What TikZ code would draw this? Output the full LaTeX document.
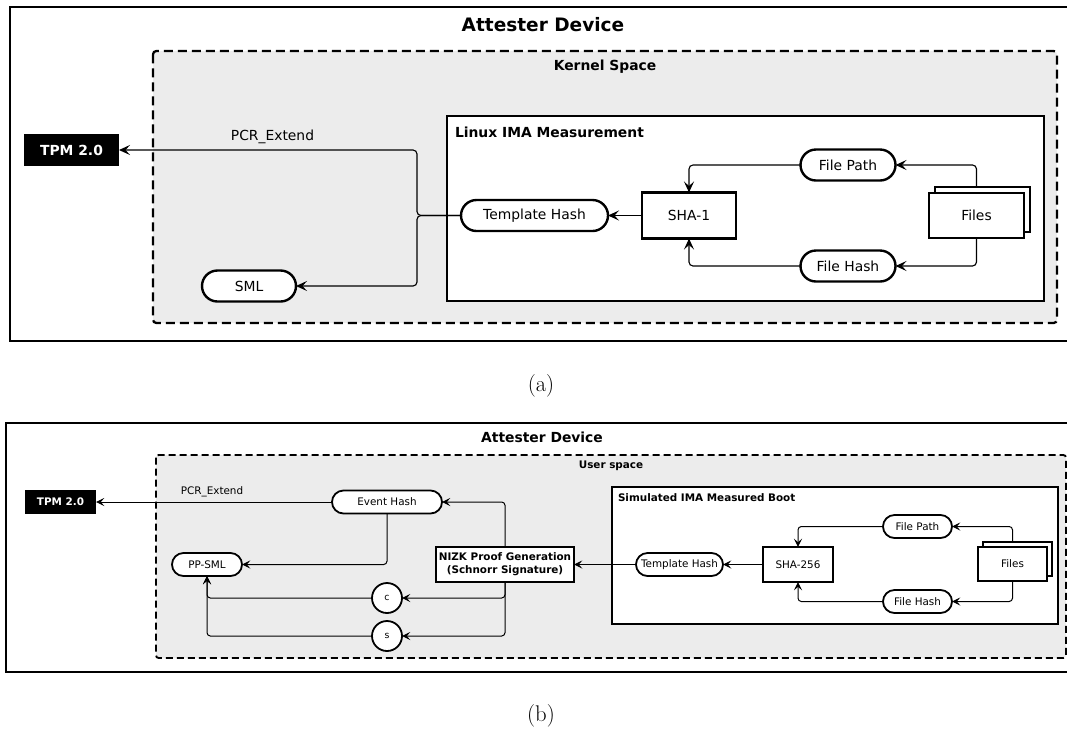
\documentclass[tikz,border=0pt]{standalone}
\usepackage{fontspec}
\newfontfamily\dejavu{DejaVu Sans}
\usetikzlibrary{arrows.meta,shapes.misc}
\pgfdeclarelayer{back}
\pgfdeclarelayer{wires}
\pgfsetlayers{back,wires,main}
\definecolor{spacegray}{HTML}{ECECEC}

\begin{document}
\begin{tikzpicture}[x=0.75pt,y=-0.75pt,
  every node/.style={inner sep=0pt, outer sep=0pt},
  % fonts: upper panel (A) and lower panel (B)
  txtA/.style={font=\dejavu\fontsize{10.4}{12.5}\selectfont},
  bldA/.style={font=\dejavu\bfseries\fontsize{10.4}{12.5}\selectfont},
  ttlA/.style={font=\dejavu\bfseries\fontsize{13.9}{16}\selectfont},
  txtB/.style={font=\dejavu\fontsize{7.8}{9.75}\selectfont},
  bldB/.style={font=\dejavu\bfseries\fontsize{7.8}{9.75}\selectfont},
  ttlB/.style={font=\dejavu\bfseries\fontsize{10.4}{12.5}\selectfont},
  capt/.style={font=\rmfamily\fontsize{17}{20}\selectfont},
  % shapes
  pillA/.style={rounded rectangle, draw, fill=white, line width=1.8pt,
    minimum height=23.25pt, txtA},
  boxA/.style={rectangle, draw, fill=white, line width=1.8pt, txtA},
  tpmA/.style={rectangle, fill=black, text=white, bldA,
    minimum width=71.25pt, minimum height=24pt},
  pillB/.style={rounded rectangle, draw, fill=white, line width=1.35pt,
    minimum height=17.25pt, txtB},
  boxB/.style={rectangle, draw, fill=white, line width=1.35pt, txtB},
  tpmB/.style={rectangle, fill=black, text=white, bldB,
    minimum width=53.25pt, minimum height=18pt},
  circB/.style={circle, draw, fill=white, line width=1.35pt,
    minimum size=22.5pt, font=\dejavu\fontsize{7}{8}\selectfont},
  % containers
  outerA/.style={draw, line width=2pt},
  outerB/.style={draw, line width=1.5pt},
  spaceA/.style={draw, fill=spacegray, line width=1.7pt,
    dash pattern=on 6.75pt off 3.75pt, rounded corners=2.5pt},
  spaceB/.style={draw, fill=spacegray, line width=1.4pt,
    dash pattern=on 5.25pt off 3pt, rounded corners=2pt},
  innerA/.style={draw, fill=white, line width=1.8pt},
  innerB/.style={draw, fill=white, line width=1.35pt},
  % connectors
  wireA/.style={draw, line width=0.85pt, rounded corners=3pt,
    -{Stealth[length=8.25pt, width=7.5pt, inset=3.4pt]}},
  wireB/.style={draw, line width=0.75pt, rounded corners=2.5pt,
    -{Stealth[length=6.2pt, width=6pt, inset=2.6pt]}},
]
\useasboundingbox (0,0) rectangle (1067,733);
\clip (0,0) rectangle (1067,733);

% ---------------- (a) Linux IMA in kernel space ----------------
\begin{pgfonlayer}{back}
  \draw[outerA] (10,7) rectangle (1085,341);
  \draw[spaceA] (153,51) rectangle (1057,323);
  \draw[innerA] (447,116) rectangle (1044,301);
\end{pgfonlayer}
\node[ttlA] (devA) at (543,25) {Attester Device};
\node[bldA] (kernA) at (605,67) {Kernel Space};
\node[bldA, anchor=west] (imaA) at (455,132) {Linux IMA Measurement};

\node[tpmA] (tpmA) at (71.5,150) {TPM 2.0};
\node[pillA, minimum width=70.5pt] (smlA) at (249,286) {SML};
\node[pillA, minimum width=110.25pt] (thA) at (534.5,215.5) {Template Hash};
\node[boxA, minimum width=70.5pt, minimum height=34.5pt] (shaA) at (689,215.5) {SHA-1};
\node[pillA, minimum width=71.25pt] (fpA) at (848,165) {File Path};
\node[pillA, minimum width=71.25pt] (fhA) at (848,266) {File Hash};
\node[boxA, minimum width=71.25pt, minimum height=33.75pt] (filesAb) at (982.5,209.5) {};
\node[boxA, minimum width=71.25pt, minimum height=33.75pt] (filesA) at (976.5,215.5) {Files};
\node[txtA] (pcrA) at (272.5,137) {PCR\textunderscore Extend};
\coordinate (jA) at (417,215.5);

\begin{pgfonlayer}{wires}
  \path[wireA] (shaA.west) -- (thA.east);
  \path[wireA] (thA.west) -- (jA) |- (tpmA.east);
  \path[wireA] (thA.west) -- (jA) |- (smlA.east);
  \path[wireA] (filesA.north) |- (fpA.east);
  \path[wireA] (filesA.south) |- (fhA.east);
  \path[wireA] (fpA.west) -| (shaA.north);
  \path[wireA] (fhA.west) -| (shaA.south);
\end{pgfonlayer}

\node[capt] (capA) at (541,386) {(a)};

% ---------------- (b) simulated IMA in user space ----------------
\begin{pgfonlayer}{back}
  \draw[outerB] (6,423) rectangle (1085,672);
  \draw[spaceB] (156,455) rectangle (1066,658);
  \draw[innerB] (612,487) rectangle (1058,624);
\end{pgfonlayer}
\node[ttlB] (devB) at (542,437) {Attester Device};
\node[bldB] (userB) at (611,466) {User space};
\node[bldB, anchor=west] (simB) at (618,498) {Simulated IMA Measured Boot};

\node[tpmB] (tpmB) at (60.5,502) {TPM 2.0};
\node[pillB, minimum width=82.5pt] (ehB) at (387,502) {Event Hash};
\node[pillB, minimum width=52.5pt] (ppB) at (207,564.5) {PP-SML};
\node[boxB, bldB, align=center, minimum width=103.5pt, minimum height=26.25pt]
  (nizkB) at (505,564.5) {NIZK Proof Generation\\(Schnorr Signature)};
\node[circB] (cB) at (387,598) {c};
\node[circB] (sB) at (387,636) {s};
\node[pillB, minimum width=65.25pt] (thB) at (679.5,564.5) {Template Hash};
\node[boxB, minimum width=52.5pt, minimum height=26.25pt] (shaB) at (798,564.5) {SHA-256};
\node[pillB, minimum width=51.75pt] (fpB) at (917.5,526.5) {File Path};
\node[pillB, minimum width=51.75pt] (fhB) at (917.5,601.5) {File Hash};
\node[boxB, minimum width=51.75pt, minimum height=25.5pt] (filesBb) at (1017.5,559) {};
\node[boxB, minimum width=51.75pt, minimum height=25.5pt] (filesB) at (1012.5,564) {Files};
\node[txtB] (pcrB) at (212,492) {PCR\textunderscore Extend};

\begin{pgfonlayer}{wires}
  \path[wireB] (ehB.west) -- (tpmB.east);
  \path[wireB] (ehB.south) |- (ppB.east);
  \path[wireB] (nizkB.north) |- (ehB.east);
  \path[wireB] (nizkB.south) |- (cB.east);
  \path[wireB] (nizkB.south) |- (sB.east);
  \path[wireB] (cB.west) -| (ppB.south);
  \path[wireB] (sB.west) -| (ppB.south);
  \path[wireB] (thB.west) -- (nizkB.east);
  \path[wireB] (shaB.west) -- (thB.east);
  \path[wireB] (fpB.west) -| (shaB.north);
  \path[wireB] (fhB.west) -| (shaB.south);
  \path[wireB] (filesB.north) |- (fpB.east);
  \path[wireB] (filesB.south) |- (fhB.east);
\end{pgfonlayer}

\node[capt] (capB) at (541,716) {(b)};
\end{tikzpicture}
\end{document}
